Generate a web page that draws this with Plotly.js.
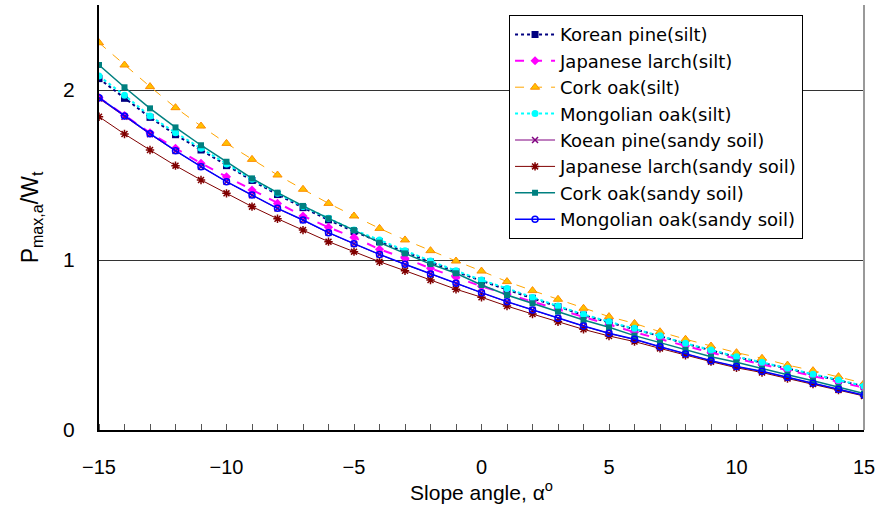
<!DOCTYPE html>
<html>
<head>
<meta charset="utf-8">
<script src="https://cdn.plot.ly/plotly-3.0.1.min.js"></script>
<style>html,body{margin:0;padding:0;background:#fff;}#chart{width:880px;height:513px;}</style>
</head>
<body>
<div id="chart"></div>
<script>
const slopeAngles = [-15,-14,-13,-12,-11,-10,-9,-8,-7,-6,-5,-4,-3,-2,-1,0,1,2,3,4,5,6,7,8,9,10,11,12,13,14,15];
const seriesNames = ["Korean pine(silt)","Japanese larch(silt)","Cork oak(silt)","Mongolian oak(silt)","Koean pine(sandy soil)","Japanese larch(sandy soil)","Cork oak(sandy soil)","Mongolian oak(sandy soil)"];
const koreanPineSilt = [2.067,1.951,1.839,1.737,1.647,1.555,1.468,1.385,1.308,1.236,1.168,1.108,1.047,0.988,0.930,0.876,0.826,0.775,0.725,0.676,0.633,0.594,0.552,0.508,0.469,0.429,0.396,0.361,0.326,0.292,0.257];
const japaneseLarchSilt = [1.955,1.850,1.748,1.657,1.569,1.490,1.412,1.333,1.259,1.192,1.133,1.063,1.010,0.951,0.898,0.845,0.800,0.755,0.710,0.663,0.620,0.575,0.535,0.495,0.455,0.420,0.385,0.350,0.315,0.283,0.250];
const corkOakSilt = [2.278,2.147,2.020,1.896,1.788,1.686,1.592,1.500,1.416,1.333,1.259,1.186,1.118,1.055,0.994,0.935,0.873,0.820,0.769,0.716,0.667,0.627,0.578,0.534,0.494,0.455,0.422,0.382,0.349,0.314,0.275];
const mongolianOakSilt = [2.082,1.969,1.847,1.749,1.657,1.565,1.475,1.392,1.315,1.245,1.176,1.118,1.055,0.994,0.937,0.882,0.833,0.780,0.729,0.680,0.637,0.598,0.555,0.510,0.471,0.431,0.398,0.363,0.328,0.294,0.259];
const koreanPineSandy = [1.950,1.843,1.740,1.641,1.548,1.460,1.381,1.303,1.234,1.160,1.095,1.032,0.974,0.917,0.862,0.807,0.754,0.705,0.656,0.611,0.568,0.532,0.489,0.446,0.407,0.372,0.344,0.309,0.274,0.239,0.204];
const japaneseLarchSandy = [1.843,1.741,1.647,1.555,1.471,1.392,1.314,1.243,1.176,1.108,1.049,0.990,0.937,0.882,0.828,0.781,0.729,0.682,0.637,0.592,0.553,0.520,0.480,0.440,0.402,0.366,0.338,0.303,0.270,0.235,0.200];
const corkOakSandy = [2.147,2.016,1.892,1.780,1.675,1.578,1.480,1.396,1.318,1.245,1.176,1.102,1.039,0.976,0.922,0.853,0.794,0.745,0.696,0.647,0.604,0.555,0.514,0.471,0.431,0.398,0.360,0.325,0.290,0.253,0.215];
const mongolianOakSandy = [1.955,1.847,1.743,1.643,1.549,1.461,1.382,1.304,1.235,1.161,1.096,1.033,0.975,0.918,0.863,0.808,0.755,0.706,0.657,0.612,0.569,0.534,0.490,0.447,0.408,0.373,0.345,0.310,0.275,0.240,0.205];
const yTickVals = [0,1,2];
const xTickVals = [-15,-10,-5,0,5,10,15];

const values = [koreanPineSilt, japaneseLarchSilt, corkOakSilt, mongolianOakSilt, koreanPineSandy, japaneseLarchSandy, corkOakSandy, mongolianOakSandy];
const styles = [
  {line:{color:'#000080',dash:'dot',width:2}, marker:{symbol:'square',color:'#000080',size:7}},
  {line:{color:'#FF00FF',dash:'dash',width:2}, marker:{symbol:'diamond',color:'#FF00FF',size:7}},
  {line:{color:'#FFA500',dash:'dash',width:1}, marker:{symbol:'triangle-up',color:'#FFC000',size:8,line:{color:'#FF8C00',width:1}}},
  {line:{color:'#00FFFF',dash:'dot',width:2}, marker:{symbol:'circle',color:'#00FFFF',size:7}},
  {line:{color:'#800080',width:1}, marker:{symbol:'x-thin-open',color:'#800080',size:6,line:{color:'#800080',width:1.5}}},
  {line:{color:'#800000',width:1}, marker:{symbol:'asterisk-open',color:'#800000',size:7,line:{color:'#800000',width:1.5}}},
  {line:{color:'#008080',width:1.5}, marker:{symbol:'square',color:'#008080',size:6}},
  {line:{color:'#0000FF',width:1.5}, marker:{symbol:'circle-open',color:'#0000FF',size:6,line:{color:'#0000FF',width:1.5}}}
];
const traces = values.map((v,i)=>({
  x: slopeAngles, y: v, name: seriesNames[i], type:'scatter', mode:'lines+markers',
  line: styles[i].line, marker: styles[i].marker
}));

const font = "Liberation Sans, Arial, sans-serif";
const layout = {
  width:880, height:513,
  margin:{l:99, r:16, t:5, b:83},
  paper_bgcolor:'#fff', plot_bgcolor:'#fff',
  showlegend:true,
  legend:{x:0.536, y:0.976, xanchor:'left', yanchor:'top', bordercolor:'#000', borderwidth:1,
    bgcolor:'#fff', font:{family:"DejaVu Sans, sans-serif", size:18, color:'#000'}, tracegroupgap:0, itemwidth:40},
  xaxis:{range:[-15,15], tickvals:xTickVals, ticktext:xTickVals.map(v=>v<0?'\u2212'+Math.abs(v):String(v)),
    ticks:'', showgrid:false, zeroline:false, showline:true, linecolor:'#000', linewidth:2,
    tickfont:{family:font, size:20, color:'#000'}, ticklabelstandoff:18,
    minor:{dtick:1, ticks:'inside', ticklen:6, tickcolor:'#555', tickwidth:1, showgrid:false},
    title:{text:'Slope angle, \u03b1<sup>o</sup>', font:{family:font, size:21, color:'#000'}, standoff:8}},
  yaxis:{range:[0,2.5], tickvals:yTickVals, ticks:'', showgrid:true, gridcolor:'#333', gridwidth:1,
    zeroline:false, showline:true, linecolor:'#000', linewidth:2,
    tickfont:{family:font, size:21, color:'#000'}, ticklabelstandoff:18,
    title:{text:'P<sub>max,a</sub>/W<sub>t</sub>', font:{family:font, size:23, color:'#000'}, standoff:18}},
  shapes:[{type:'line', xref:'paper', yref:'paper', x0:1, x1:1, y0:0, y1:1, line:{color:'#999', width:2}}]
};
Plotly.newPlot('chart', traces, layout, {displayModeBar:false, staticPlot:true});
</script>
</body>
</html>
